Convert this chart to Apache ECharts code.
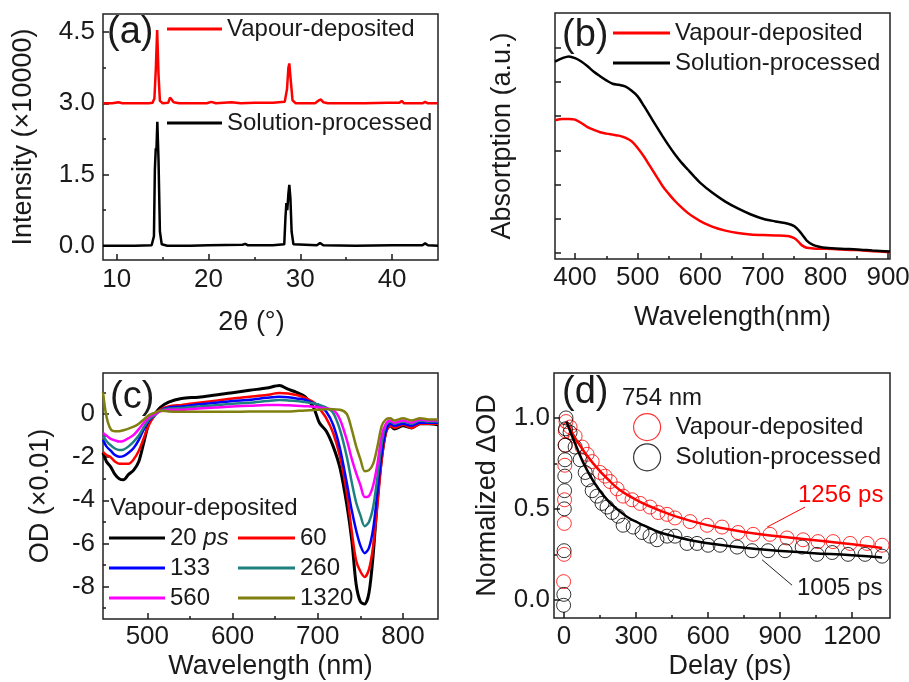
<!DOCTYPE html>
<html>
<head>
<meta charset="utf-8">
<script src="https://cdn.jsdelivr.net/npm/echarts@6/dist/echarts.min.js"></script>
<style>
html, body { margin: 0; padding: 0; background: #fff; }
#chart { width: 909px; height: 682px; }
</style>
</head>
<body>
<div id="chart"></div>
<script>
// ---- (a) XRD, [2theta, intensity x10000]
const xrdVapour = [[8.5,3.0],[9.5,3.0],[10.2,3.02],[10.6,3.0],[12.0,3.0],[13.5,3.0],[13.9,3.01],[14.1,3.1],[14.25,3.7],[14.4,4.54],[14.55,3.6],[14.7,3.05],[15.0,3.0],[15.6,3.01],[15.8,3.12],[15.95,3.13],[16.2,3.02],[16.8,3.0],[19.8,3.0],[20.3,3.03],[20.8,3.0],[22.5,3.02],[23.5,3.0],[25.0,3.01],[27.0,3.01],[28.3,3.03],[28.55,3.3],[28.7,3.75],[28.8,3.84],[28.95,3.5],[29.15,3.06],[29.5,3.0],[31.6,3.0],[32.0,3.06],[32.25,3.08],[32.5,3.02],[33.0,3.0],[37.0,3.0],[39.5,3.01],[40.8,3.01],[41.05,3.05],[41.3,3.0],[43.3,3.0],[43.6,3.03],[43.9,3.0],[45.0,3.0]];
const xrdSolution = [[8.5,0.0],[12.0,0.0],[13.8,0.01],[14.05,0.2],[14.15,1.6],[14.25,2.05],[14.32,2.0],[14.42,2.61],[14.55,1.8],[14.7,0.3],[14.9,0.03],[15.5,0.0],[18.0,0.0],[20.0,0.01],[23.7,0.02],[24.0,0.04],[24.3,0.01],[27.0,0.01],[28.25,0.03],[28.38,0.6],[28.48,0.9],[28.58,0.75],[28.7,1.1],[28.8,1.28],[28.92,1.0],[29.05,0.3],[29.25,0.03],[31.8,0.01],[32.15,0.06],[32.3,0.07],[32.5,0.01],[36.0,0.0],[40.0,0.01],[43.3,0.01],[43.6,0.05],[43.9,0.01],[45.0,0.0]];

// ---- (b) absorption (a.u.)
const absWl = [368,380,390,400,410,420,430,440,450,460,470,480,490,500,510,520,530,540,550,560,570,580,590,600,620,640,660,680,700,720,740,750,755,760,765,770,780,790,800,825,850,875,903];
const absVapour = [3.88,3.92,3.92,3.9,3.8,3.68,3.6,3.53,3.49,3.46,3.43,3.37,3.27,3.07,2.82,2.53,2.24,1.95,1.72,1.51,1.33,1.17,1.04,0.93,0.76,0.65,0.58,0.54,0.52,0.51,0.49,0.43,0.36,0.26,0.19,0.15,0.13,0.12,0.12,0.1,0.08,0.05,0.02];
const absSolution = [5.6,5.7,5.75,5.7,5.6,5.46,5.3,5.17,5.05,4.95,4.92,4.87,4.75,4.58,4.3,4.0,3.7,3.41,3.13,2.87,2.64,2.44,2.24,2.05,1.75,1.5,1.3,1.13,1.0,0.92,0.85,0.78,0.7,0.6,0.48,0.36,0.23,0.18,0.15,0.12,0.1,0.07,0.04];

// ---- (c) transient absorption, OD x0.01
const taWl = [448,452,457,462,467,472,478,484,490,496,502,508,515,525,540,560,580,600,620,640,655,665,675,685,695,702,710,718,726,734,740,745,750,755,760,765,770,775,780,785,790,800,810,820,830,841];
const ta20 = [-1.8,-2.2,-2.45,-2.8,-3.0,-3.05,-2.8,-2.6,-2.2,-1.3,-0.4,-0.05,0.3,0.55,0.72,0.78,0.88,0.98,1.1,1.2,1.32,1.15,1.0,0.8,0.3,-0.42,-0.8,-1.5,-2.5,-4.2,-5.9,-7.9,-8.7,-8.8,-8.3,-6.5,-3.9,-2.0,-0.8,-0.55,-0.7,-0.55,-0.65,-0.45,-0.45,-0.5];
const ta60 = [-1.75,-1.9,-2.0,-2.2,-2.3,-2.3,-2.3,-2.1,-1.7,-1.1,-0.5,-0.1,0.2,0.35,0.42,0.52,0.62,0.72,0.8,0.88,0.97,0.95,0.88,0.75,0.55,0.25,-0.2,-0.88,-1.98,-3.66,-5.5,-6.8,-7.3,-7.55,-7.2,-6.1,-4.2,-2.1,-0.85,-0.55,-0.65,-0.5,-0.65,-0.45,-0.45,-0.45];
const ta133 = [-1.2,-1.5,-1.7,-1.9,-1.98,-1.95,-1.8,-1.58,-1.2,-0.7,-0.3,-0.08,0.15,0.3,0.35,0.45,0.52,0.6,0.66,0.75,0.8,0.78,0.72,0.66,0.5,0.4,0.1,-0.5,-1.6,-3.2,-4.5,-5.4,-6.1,-6.45,-6.2,-5.3,-3.6,-1.8,-0.75,-0.45,-0.55,-0.45,-0.55,-0.4,-0.4,-0.4];
const ta260 = [-1.0,-1.25,-1.45,-1.6,-1.67,-1.65,-1.5,-1.28,-1.0,-0.6,-0.25,-0.08,0.15,0.25,0.28,0.35,0.4,0.48,0.52,0.6,0.65,0.63,0.6,0.55,0.5,0.42,0.3,0.05,-0.74,-1.98,-3.2,-4.1,-4.7,-5.2,-5.0,-4.3,-2.9,-1.35,-0.5,-0.35,-0.45,-0.35,-0.45,-0.3,-0.35,-0.35];
const ta560 = [-0.88,-1.0,-1.15,-1.22,-1.28,-1.25,-1.12,-0.97,-0.7,-0.4,-0.15,-0.02,0.12,0.2,0.2,0.25,0.3,0.35,0.38,0.42,0.42,0.4,0.38,0.36,0.34,0.3,0.25,0.2,-0.25,-1.2,-2.1,-2.74,-3.3,-3.85,-3.8,-3.3,-2.3,-1.0,-0.45,-0.3,-0.4,-0.3,-0.4,-0.25,-0.3,-0.3];
const ta1320 = [1.0,-0.1,-0.7,-0.8,-0.8,-0.75,-0.68,-0.59,-0.45,-0.25,-0.05,0.05,0.15,0.12,0.1,0.1,0.1,0.1,0.12,0.12,0.12,0.12,0.14,0.16,0.19,0.2,0.22,0.22,0.2,0.0,-0.75,-1.5,-2.1,-2.65,-2.6,-2.3,-1.5,-0.55,-0.25,-0.2,-0.3,-0.2,-0.3,-0.2,-0.25,-0.25];

// ---- (d) kinetics at 754 nm, [delay ps, normalized dOD]
const kinVapour = [[-2,0.1],[0,0.25],[1,0.42],[2,0.55],[3,0.74],[4,0.85],[5,0.93],[8,0.98],[25,0.95],[46,0.9],[75,0.84],[96,0.8],[117,0.76],[150,0.7],[171,0.68],[192,0.65],[221,0.61],[246,0.57],[283,0.55],[317,0.53],[358,0.51],[392,0.48],[429,0.47],[462,0.45],[525,0.43],[596,0.41],[658,0.4],[725,0.37],[788,0.36],[858,0.36],[929,0.34],[996,0.33],[1058,0.32],[1121,0.32],[1192,0.31],[1263,0.31],[1325,0.3]];
const kinSolution = [[-2,-0.03],[-1,0.03],[0,0.27],[1,0.5],[2,0.6],[3,0.68],[4,0.77],[5,0.85],[6,0.94],[8,1.0],[25,0.92],[46,0.84],[67,0.77],[88,0.7],[100,0.66],[117,0.6],[137,0.57],[158,0.53],[179,0.51],[200,0.48],[225,0.46],[246,0.41],[288,0.4],[325,0.37],[358,0.35],[387,0.33],[429,0.35],[462,0.35],[512,0.31],[554,0.31],[600,0.3],[650,0.3],[721,0.29],[783,0.27],[850,0.27],[921,0.27],[992,0.29],[1054,0.25],[1117,0.26],[1183,0.25],[1254,0.25],[1325,0.24]];
const fitVapour = [[10,0.98],[50,0.88],[121,0.75],[200,0.64],[260,0.58],[400,0.49],[539,0.43],[678,0.39],[817,0.36],[956,0.34],[1096,0.32],[1235,0.3],[1325,0.285]];
const fitSolution = [[10,0.98],[52,0.84],[93,0.72],[149,0.6],[219,0.5],[330,0.41],[469,0.345],[608,0.31],[817,0.278],[1026,0.258],[1200,0.245],[1325,0.232]];
const arrowVapour = [[1004,0.51],[846,0.40]];
const arrowSolution = [[950,0.08],[825,0.22]];

const FONT = "'Liberation Sans', Arial, sans-serif";
const INK = '#1a1a1a';

const LABELS = {
  aVap: 'Vapour-deposited', aSol: 'Solution-processed',
  bVap: 'Vapour-deposited', bSol: 'Solution-processed',
  c20: '20 {i|ps}', c60: '60', c133: '133', c260: '260', c560: '560', c1320: '1320',
  dVap: 'Vapour-deposited', dSol: 'Solution-processed'
};

function zip(xs, ys) { return xs.map((x, i) => [x, ys[i]]); }

// one visible axis plus a bare one carrying the minor ticks
function axisPair(dim, grid, min, max, ticks, minors, o) {
  const main = {
    type: 'value', gridIndex: grid, min: min, max: max,
    position: dim === 'x' ? 'bottom' : 'left',
    axisLine: { show: false, onZero: false },
    splitLine: { show: false },
    axisTick: { inside: true, length: 6, customValues: ticks, lineStyle: { color: INK, width: 1.5 } },
    axisLabel: {
      show: o.labels !== false, customValues: ticks, color: INK, fontSize: 26,
      fontFamily: FONT, margin: o.margin, formatter: o.fmt || (v => String(v))
    },
    name: o.name, nameLocation: 'middle', nameGap: o.gap,
    nameTextStyle: { color: INK, fontSize: 27, fontFamily: FONT, padding: o.pad || 0 }
  };
  const minor = {
    type: 'value', gridIndex: grid, min: min, max: max,
    position: dim === 'x' ? 'bottom' : 'left',
    axisLine: { show: false, onZero: false },
    splitLine: { show: false },
    axisLabel: { show: false },
    axisTick: { inside: true, length: 3, customValues: minors, lineStyle: { color: INK, width: 1.5 } }
  };
  return [main, minor];
}

const fix1 = v => v.toFixed(1);
const xAxes = [].concat(
  axisPair('x', 0, 8.5, 45, [10, 20, 30, 40], [15, 25, 35], { name: '2θ (°)', gap: 49, margin: 7, pad: [0, 38, 0, 0] }),
  axisPair('x', 1, 368, 903, [400, 500, 600, 700, 800, 900], [450, 550, 650, 750, 850], { name: 'Wavelength(nm)', gap: 45, margin: 6, pad: [0, 0, 0, 20] }),
  axisPair('x', 2, 448, 841, [500, 600, 700, 800], [550, 650, 750], { name: 'Wavelength (nm)', gap: 34, margin: 5 }),
  axisPair('x', 3, -42, 1358, [0, 300, 600, 900, 1200], [150, 450, 750, 1050], { name: 'Delay (ps)', gap: 35, margin: 6, pad: [0, 0, 0, 16] })
);
const yAxes = [].concat(
  axisPair('y', 0, -0.3, 4.88, [0, 1.5, 3, 4.5], [0.75, 2.25, 3.75], { name: 'Intensity (×10000)', gap: 66, margin: 8, fmt: fix1 }),
  axisPair('y', 1, -0.18, 7.02, [0, 1, 2, 3, 4, 5, 6], [], { name: 'Absortption (a.u.)', gap: 39, labels: false }),
  axisPair('y', 2, -9.5, 1.9, [0, -2, -4, -6, -8], [1, -1, -3, -5, -7, -9], { name: 'OD (×0.01)', gap: 49, margin: 8 }),
  axisPair('y', 3, -0.1, 1.247, [0, 0.5, 1.0], [0.25, 0.75], { name: 'Normalized ΔOD', gap: 53, margin: 4, fmt: fix1 })
);

function line(name, panel, data, color, width, smooth) {
  return {
    name: name, type: 'line', xAxisIndex: panel * 2, yAxisIndex: panel * 2,
    data: data, color: color, showSymbol: false, symbol: 'none', smooth: smooth || false,
    lineStyle: { color: color, width: width }
  };
}
function dots(name, data, color) {
  return {
    name: name, type: 'scatter', xAxisIndex: 6, yAxisIndex: 6, data: data,
    symbol: 'circle', symbolSize: 14,
    itemStyle: { color: 'rgba(0,0,0,0)', borderColor: color, borderWidth: 1 }
  };
}
function arrow(pts, color) {
  return {
    silent: true, symbol: ['none', 'arrow'], symbolSize: [0, 8],
    label: { show: false },
    lineStyle: { color: color, width: 1, type: 'solid' },
    data: [[{ coord: pts[0] }, { coord: pts[1] }]]
  };
}

const fitV = line('dFitV', 3, fitVapour, '#ff0000', 2.5, true);
fitV.markLine = arrow(arrowVapour, '#ff0000');
const fitS = line('dFitS', 3, fitSolution, '#000000', 2.5, true);
fitS.markLine = arrow(arrowSolution, '#222222');

const series = [
  line('aVap', 0, xrdVapour, '#ff0000', 2.5),
  line('aSol', 0, xrdSolution, '#000000', 2.5),
  line('bVap', 1, zip(absWl, absVapour), '#ff0000', 2.5, 0.3),
  line('bSol', 1, zip(absWl, absSolution), '#000000', 2.5, 0.3),
  line('c20', 2, zip(taWl, ta20), '#000000', 3, 0.3),
  line('c60', 2, zip(taWl, ta60), '#ff0000', 2.5, 0.3),
  line('c133', 2, zip(taWl, ta133), '#0000ff', 2.5, 0.3),
  line('c260', 2, zip(taWl, ta260), '#1f8080', 2.5, 0.3),
  line('c560', 2, zip(taWl, ta560), '#ff00ff', 2.5, 0.3),
  line('c1320', 2, zip(taWl, ta1320), '#808010', 2.5, 0.3),
  dots('dVap', kinVapour, '#ff0000'),
  dots('dSol', kinSolution, '#000000'),
  fitV, fitS
];

const legendText = {
  fontSize: 24, color: INK, fontFamily: FONT,
  rich: { i: { fontSize: 24, color: INK, fontFamily: FONT, fontStyle: 'italic' } }
};
function lineLegend(names, left, top, w) {
  return {
    data: names, left: left, top: top, orient: 'vertical', padding: 0, itemGap: 6,
    icon: 'rect', itemWidth: w, itemHeight: 3, selectedMode: false,
    itemStyle: { borderWidth: 0 }, textStyle: legendText,
    formatter: n => LABELS[n]
  };
}
const legends = [
  lineLegend(['aVap'], 167, 17, 55),
  lineLegend(['aSol'], 167, 111, 55),
  lineLegend(['bVap', 'bSol'], 613, 21, 57),
  lineLegend(['c20', 'c133', 'c560'], 109, 526, 56),
  lineLegend(['c60', 'c260', 'c1320'], 238, 526, 57),
  {
    data: ['dVap', 'dSol'], left: 633, top: 413, orient: 'vertical', padding: 0, itemGap: 2,
    icon: 'circle', itemWidth: 27, itemHeight: 27, selectedMode: false,
    itemStyle: { color: 'rgba(0,0,0,0)', borderColor: 'inherit', borderWidth: 1.2 },
    textStyle: Object.assign({ padding: [0, 0, 0, 10] }, legendText),
    formatter: n => LABELS[n]
  }
];

function txt(text, left, top, size, color) {
  return {
    text: text, left: left, top: top, padding: 0,
    textStyle: { fontSize: size, fontWeight: 'normal', color: color || INK, fontFamily: FONT }
  };
}
const titles = [
  txt('(a)', 107, 14, 38), txt('(b)', 562, 17, 38),
  txt('(c)', 110, 379, 38), txt('(d)', 562, 374, 38),
  txt('Vapour-deposited', 110, 496, 24),
  txt('754 nm', 622, 386, 24),
  txt('1256 ps', 798, 483, 24, '#ff0000'),
  txt('1005 ps', 797, 576, 24)
];

function grid(left, top, width, height) {
  return {
    left: left, top: top, width: width, height: height, show: true,
    borderColor: '#222', borderWidth: 1.5, backgroundColor: 'transparent',
    outerBoundsMode: 'none'
  };
}

const chart = echarts.init(document.getElementById('chart'));
chart.setOption({
  animation: false,
  backgroundColor: '#fff',
  title: titles,
  legend: legends,
  grid: [grid(103, 14, 335, 246), grid(555, 13, 335, 246), grid(103, 373, 335, 246), grid(554, 373, 336, 245)],
  xAxis: xAxes,
  yAxis: yAxes,
  series: series
});
</script>
</body>
</html>
